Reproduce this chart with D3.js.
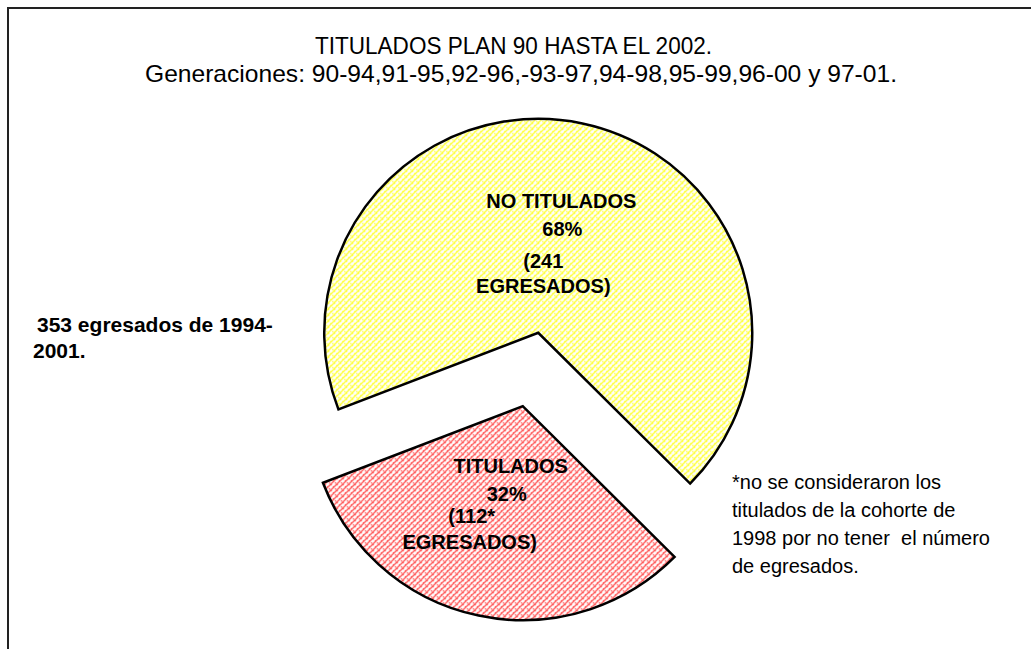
<!DOCTYPE html>
<html>
<head>
<meta charset="utf-8">
<script src="https://cdn.jsdelivr.net/npm/d3@7"></script>
<style>
  body { margin: 0; background: #fff; }
  text { font-family: "Liberation Sans", Arial, sans-serif; fill: #000; white-space: pre; }
</style>
</head>
<body>
<svg width="1031" height="649"></svg>
<script>
// datos
var categorias = ["TITULADOS", "NO TITULADOS"];
var egresados = [112, 241];
var porcentajes = ["32%", "68%"];
var etiquetas = [
  ["TITULADOS", "32%", "(112*", "EGRESADOS)"],
  ["NO TITULADOS", "68%", "(241", "EGRESADOS)"]
];
var titulo = ["TITULADOS PLAN 90 HASTA EL 2002.",
  "Generaciones: 90-94,91-95,92-96,-93-97,94-98,95-99,96-00 y 97-01."];
var notaIzq = ["353 egresados de 1994-", "2001."];
var notaDer = ["*no se consideraron los", "titulados de la cohorte de",
  "1998 por no tener  el número", "de egresados."];

var svg = d3.select("svg"),
    cx = 530.5, cy = 369.5,
    radius = 214,
    explode = 37.5;

// marco
svg.append("rect")
    .attr("x", 8).attr("y", 8)
    .attr("width", 1040).attr("height", 660)
    .attr("fill", "none")
    .attr("stroke", "#222")
    .attr("stroke-width", 2);

// tramas
var defs = svg.append("defs");
function trama(id, color) {
  var p = defs.append("pattern")
      .attr("id", id)
      .attr("patternUnits", "userSpaceOnUse")
      .attr("width", 6).attr("height", 6);
  p.append("rect").attr("width", 6).attr("height", 6).attr("fill", "#fff");
  p.append("path")
      .attr("d", "M-1,7 L7,-1 M-1,1 L1,-1 M5,7 L7,5")
      .attr("stroke", color).attr("stroke-width", 1.3);
  p.append("path")
      .attr("d", "M0,0 L6,6")
      .attr("stroke", color).attr("stroke-width", 1.1)
      .attr("stroke-dasharray", "1.5,1.5");
}
trama("tramaRoja", "#ff5050");
trama("tramaAmarilla", "#ffff30");

var color = d3.scaleOrdinal()
    .domain(categorias)
    .range(["url(#tramaRoja)", "url(#tramaAmarilla)"]);

var startDeg = 134.8;
var pie = d3.pie()
    .sort(null)
    .startAngle(startDeg * Math.PI / 180)
    .endAngle((startDeg + 360) * Math.PI / 180)
    .value(function(d) { return d; });

var arc = d3.arc().innerRadius(0).outerRadius(radius);

var arcs = pie(egresados);

var g = svg.append("g").attr("transform", "translate(" + cx + "," + cy + ")");

var slice = g.selectAll(".slice")
    .data(arcs)
    .enter().append("g")
    .attr("class", "slice")
    .attr("transform", function(d) {
      var a = (d.startAngle + d.endAngle) / 2;
      return "translate(" + (Math.sin(a) * explode) + "," + (-Math.cos(a) * explode) + ")";
    });

slice.append("path")
    .attr("d", arc)
    .attr("fill", function(d, i) { return color(categorias[i]); })
    .attr("stroke", "#000")
    .attr("stroke-width", 2.5)
    .attr("stroke-linejoin", "miter");

// etiquetas de las rebanadas (desplazamiento de cada línea respecto al centroide)
var offsets = [
  [[10, -38], [6, -10], [-29, 12], [-31, 38]],
  [[1, -20], [2, 8], [-17, 40], [-17, 65]]
];
slice.each(function(d, i) {
  var c = arc.centroid(d);
  var t = d3.select(this);
  etiquetas[i].forEach(function(linea, j) {
    t.append("text")
        .attr("x", c[0] + offsets[i][j][0])
        .attr("y", c[1] + offsets[i][j][1])
        .attr("text-anchor", "middle")
        .style("font-size", "20px")
        .style("font-weight", "bold")
        .text(linea);
  });
});

var anchoTitulo = [397, 752];
svg.selectAll(".titulo")
    .data(titulo)
    .enter().append("text")
    .attr("class", "titulo")
    .attr("x", function(d, i) { return i === 0 ? 513.5 : 521; })
    .attr("y", function(d, i) { return 54 + i * 28; })
    .attr("text-anchor", "middle")
    .attr("textLength", function(d, i) { return anchoTitulo[i]; })
    .attr("lengthAdjust", "spacingAndGlyphs")
    .style("font-size", "24px")
    .text(function(d) { return d; });

svg.selectAll(".izq")
    .data(notaIzq)
    .enter().append("text")
    .attr("class", "izq")
    .attr("x", function(d, i) { return i === 0 ? 37 : 33; })
    .attr("y", function(d, i) { return 332 + i * 26; })
    .style("font-size", "21px")
    .style("font-weight", "bold")
    .text(function(d) { return d; });

svg.selectAll(".der")
    .data(notaDer)
    .enter().append("text")
    .attr("class", "der")
    .attr("x", 732)
    .attr("y", function(d, i) { return 489 + i * 28; })
    .style("font-size", "20px")
    .text(function(d) { return d; });
</script>
</body>
</html>
